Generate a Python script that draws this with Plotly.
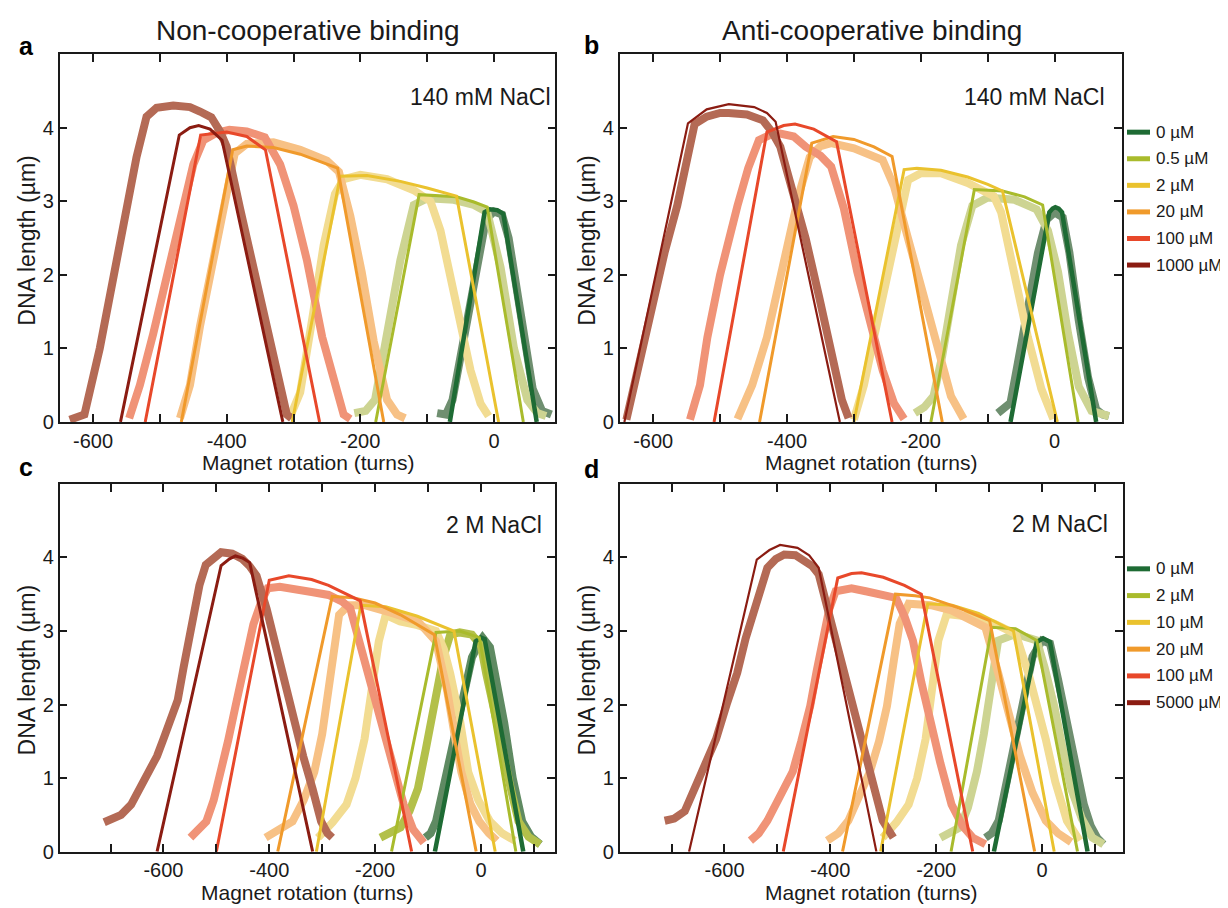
import plotly.graph_objects as go

# ---------------- data ----------------
labels_ab = ["0 µM", "0.5 µM", "2 µM", "20 µM", "100 µM", "1000 µM"]
labels_cd = ["0 µM", "2 µM", "10 µM", "20 µM", "100 µM", "5000 µM"]

fit_colors = ["#1e6b34", "#a9bb2c", "#eac22e", "#f09a2b", "#e8482a", "#8b1c12"]
data_colors = ["#6f8f70", "#cdd492", "#f2dc92", "#f7c185", "#f09377", "#b46a55"]
data_colors_c = ["#5f8a62", "#b3c04a", "#f2dc92", "#f7c185", "#f09377", "#b46a55"]

# Panel a: non-cooperative, 140 mM NaCl
a_fit_x = [
    [-66, -14, -6, 5, 14, 64],
    [-177, -112, -56, -30, -10, 44],
    [-302, -230, -190, -140, -100, -56, 7],
    [-468, -391, -370, -330, -290, -234, -165],
    [-522, -439, -400, -370, -342, -261],
    [-559, -471, -455, -442, -425, -407, -316],
]
a_fit_y = [
    [0, 2.85, 2.89, 2.88, 2.83, 0],
    [0, 3.09, 3.06, 2.99, 2.92, 0],
    [0, 3.34, 3.35, 3.27, 3.18, 3.07, 0],
    [0, 3.70, 3.75, 3.73, 3.64, 3.45, 0],
    [0, 3.90, 3.94, 3.88, 3.70, 0],
    [0, 3.90, 4.00, 4.03, 3.98, 3.83, 0],
]
a_data_x = [
    [-85, -72, -62, -45, -28, -12, 0, 12, 22, 40, 58, 72, 86],
    [-209, -192, -178, -160, -140, -120, -100, -60, -30, -10, 10, 30, 50, 65, 78],
    [-306, -290, -272, -255, -238, -225, -200, -160, -120, -95, -80, -65, -50, -35, -20, -8],
    [-470, -455, -440, -423, -405, -388, -370, -330, -290, -250, -232, -215, -198, -180, -160, -145, -133],
    [-546, -530, -510, -490, -470, -450, -435, -415, -396, -370, -343, -320, -300, -280, -257, -240, -225, -215],
    [-635, -613, -590, -568, -550, -535, -520, -505, -480, -455, -440, -423, -410, -400, -380, -353, -330, -310, -303],
]
a_data_y = [
    [0.12, 0.10, 0.30, 1.10, 2.00, 2.75, 2.86, 2.82, 2.50, 1.40, 0.45, 0.15, 0.10],
    [0.12, 0.15, 0.30, 1.15, 2.20, 2.95, 3.04, 3.02, 2.95, 2.85, 2.10, 1.00, 0.30, 0.12, 0.08],
    [0.05, 0.40, 1.40, 2.40, 3.10, 3.30, 3.36, 3.30, 3.15, 3.00, 2.60, 2.00, 1.30, 0.70, 0.25, 0.08],
    [0.05, 0.50, 1.30, 2.04, 2.90, 3.65, 3.78, 3.80, 3.70, 3.55, 3.40, 2.80, 2.04, 1.10, 0.30, 0.10, 0.05],
    [0.05, 0.50, 1.20, 2.00, 2.80, 3.50, 3.83, 3.93, 3.97, 3.95, 3.87, 3.50, 2.94, 2.20, 1.15, 0.55, 0.10, 0.04],
    [0.03, 0.10, 1.00, 2.04, 2.90, 3.60, 4.15, 4.27, 4.30, 4.28, 4.22, 4.14, 3.95, 3.74, 2.90, 1.82, 0.85, 0.10, 0.05],
]

# Panel b: anti-cooperative, 140 mM NaCl
b_fit_x = [
    [-66, -8, -3, 1, 6, 11, 62],
    [-185, -120, -78, -45, -18, 35],
    [-300, -225, -206, -170, -130, -100, -78, 4],
    [-441, -363, -331, -300, -270, -243, -168],
    [-509, -430, -405, -388, -360, -326, -243],
    [-643, -548, -520, -487, -449, -430, -417, -321],
]
b_fit_y = [
    [0, 2.85, 2.90, 2.92, 2.90, 2.85, 0],
    [0, 3.16, 3.14, 3.06, 2.95, 0],
    [0, 3.43, 3.45, 3.42, 3.33, 3.23, 3.14, 0],
    [0, 3.79, 3.88, 3.84, 3.74, 3.61, 0],
    [0, 3.94, 4.03, 4.05, 3.98, 3.81, 0],
    [0, 4.06, 4.25, 4.32, 4.28, 4.20, 4.08, 0],
]
b_data_x = [
    [-85, -66, -55, -40, -25, -12, 0, 12, 22, 36, 50, 62, 72, 81],
    [-209, -195, -181, -168, -155, -140, -123, -100, -60, -27, -10, 5, 20, 36, 55, 70, 81],
    [-300, -285, -270, -254, -238, -219, -200, -170, -130, -91, -80, -72, -56, -40, -20, -2],
    [-474, -452, -430, -414, -398, -382, -366, -350, -334, -300, -257, -240, -219, -196, -174, -155, -136],
    [-545, -530, -519, -500, -474, -458, -442, -426, -410, -390, -372, -350, -334, -315, -295, -276, -257, -240, -225],
    [-640, -621, -602, -583, -564, -550, -538, -520, -500, -487, -460, -436, -423, -410, -390, -372, -352, -334, -318, -308],
]
b_data_y = [
    [0.12, 0.26, 0.80, 1.60, 2.30, 2.75, 2.85, 2.78, 2.30, 1.38, 0.60, 0.17, 0.10, 0.08],
    [0.12, 0.20, 0.35, 0.90, 1.60, 2.40, 2.94, 3.05, 3.02, 2.89, 2.60, 2.04, 1.20, 0.48, 0.15, 0.10, 0.08],
    [0.03, 0.50, 1.15, 1.85, 2.49, 3.29, 3.38, 3.38, 3.25, 3.07, 2.85, 2.49, 1.85, 1.15, 0.45, 0.04],
    [0.04, 0.50, 1.15, 1.80, 2.49, 3.10, 3.60, 3.75, 3.79, 3.72, 3.56, 3.20, 2.49, 1.70, 0.93, 0.35, 0.04],
    [0.03, 0.50, 1.15, 2.00, 2.94, 3.45, 3.83, 3.90, 3.92, 3.88, 3.74, 3.62, 3.47, 2.90, 2.04, 1.35, 0.70, 0.25, 0.04],
    [0.03, 0.80, 1.60, 2.30, 2.94, 3.60, 4.05, 4.15, 4.20, 4.20, 4.18, 4.10, 3.95, 3.74, 3.10, 2.49, 1.70, 0.93, 0.30, 0.05],
]

# Panel c: non-cooperative, 2 M NaCl
c_fit_x = [
    [-87, -10, 0, 7, 80],
    [-169, -85, -40, -3, 66],
    [-311, -227, -180, -120, -51, 27],
    [-384, -281, -240, -200, -152, -88, -9],
    [-500, -400, -363, -320, -288, -228, -131],
    [-612, -491, -475, -464, -450, -437, -318],
]
c_fit_y = [
    [0, 2.86, 2.91, 2.89, 0],
    [0, 2.98, 3.00, 2.91, 0],
    [0, 3.35, 3.33, 3.20, 3.00, 0],
    [0, 3.47, 3.45, 3.38, 3.22, 2.95, 0],
    [0, 3.69, 3.75, 3.70, 3.62, 3.41, 0],
    [0, 3.89, 3.98, 4.02, 3.99, 3.93, 0],
]
c_data_x = [
    [-105, -95, -85, -68, -51, -34, -17, 0, 3, 17, 30, 44, 60, 78, 95, 112],
    [-190, -170, -152, -135, -119, -104, -88, -71, -58, -40, -17, 0, 10, 24, 37, 55, 71, 90, 112],
    [-308, -280, -254, -237, -220, -205, -193, -180, -153, -120, -85, -70, -58, -40, -24, -5, 17, 40, 64],
    [-407, -380, -356, -335, -315, -300, -288, -268, -250, -220, -170, -119, -85, -64, -50, -37, -20, -3, 15, 30],
    [-549, -535, -519, -505, -491, -478, -464, -447, -430, -415, -403, -380, -356, -320, -288, -262, -247, -235, -220, -200, -180, -163, -146, -128, -108],
    [-712, -695, -680, -661, -645, -627, -612, -600, -585, -573, -562, -552, -542, -532, -520, -505, -491, -470, -451, -437, -424, -405, -383, -360, -336, -318, -302, -290, -281],
]
c_data_y = [
    [0.19, 0.25, 0.41, 1.00, 1.53, 2.10, 2.64, 2.88, 2.91, 2.78, 2.30, 1.75, 1.00, 0.41, 0.20, 0.10],
    [0.19, 0.25, 0.33, 0.55, 0.86, 1.40, 1.97, 2.64, 2.95, 2.98, 2.95, 2.80, 2.42, 2.00, 1.53, 0.90, 0.41, 0.20, 0.10],
    [0.19, 0.40, 0.64, 1.00, 1.53, 2.20, 2.86, 3.22, 3.13, 3.08, 3.00, 2.75, 2.42, 1.80, 1.08, 0.70, 0.41, 0.25, 0.15],
    [0.19, 0.30, 0.41, 0.70, 1.08, 1.60, 2.20, 3.22, 3.35, 3.35, 3.25, 3.13, 2.86, 2.20, 1.60, 1.08, 0.65, 0.41, 0.25, 0.15],
    [0.19, 0.30, 0.41, 0.70, 1.08, 1.50, 1.97, 2.55, 3.09, 3.40, 3.58, 3.60, 3.58, 3.53, 3.49, 3.40, 3.31, 3.00, 2.64, 2.10, 1.53, 1.10, 0.64, 0.30, 0.12],
    [0.40, 0.45, 0.50, 0.64, 0.85, 1.08, 1.30, 1.53, 1.80, 2.06, 2.50, 2.86, 3.30, 3.62, 3.90, 4.00, 4.07, 4.05, 3.98, 3.88, 3.75, 3.30, 2.64, 2.00, 1.30, 0.85, 0.41, 0.25, 0.19],
]

# Panel d: anti-cooperative, 2 M NaCl
d_fit_x = [
    [-91, -10, 2, 15, 86],
    [-172, -95, -50, -10, 67],
    [-305, -216, -170, -120, -54, 23],
    [-377, -277, -240, -212, -160, -99, -14],
    [-489, -386, -360, -341, -300, -260, -228, -131],
    [-667, -539, -515, -495, -462, -440, -422, -313],
]
d_fit_y = [
    [0, 2.85, 2.90, 2.85, 0],
    [0, 3.05, 3.03, 2.87, 0],
    [0, 3.37, 3.35, 3.24, 3.00, 0],
    [0, 3.50, 3.48, 3.45, 3.32, 3.14, 0],
    [0, 3.72, 3.78, 3.79, 3.73, 3.62, 3.50, 0],
    [0, 3.97, 4.10, 4.17, 4.13, 4.03, 3.86, 0],
]
d_data_x = [
    [-107, -95, -82, -66, -50, -34, -18, 0, 15, 30, 47, 63, 79, 92, 104, 116],
    [-192, -172, -155, -140, -123, -110, -99, -83, -50, -10, 5, 23, 39, 55, 75, 95, 116],
    [-301, -275, -252, -236, -220, -207, -196, -180, -131, -90, -50, -26, -10, 7, 25, 47, 71],
    [-406, -385, -366, -345, -325, -308, -293, -280, -269, -252, -210, -171, -107, -83, -62, -42, -18, 7, 30, 55],
    [-551, -535, -519, -495, -471, -455, -438, -426, -414, -402, -390, -360, -333, -300, -276, -260, -244, -228, -212, -192, -171, -150, -131, -107],
    [-713, -695, -675, -657, -637, -616, -596, -576, -560, -543, -530, -519, -503, -487, -466, -446, -434, -422, -402, -382, -358, -333, -317, -301, -281],
]
d_data_y = [
    [0.19, 0.25, 0.42, 1.00, 1.53, 2.10, 2.65, 2.87, 2.83, 2.35, 1.76, 1.20, 0.64, 0.35, 0.19, 0.10],
    [0.19, 0.25, 0.33, 0.60, 1.09, 1.60, 2.20, 2.87, 2.96, 2.87, 2.50, 1.98, 1.40, 0.86, 0.45, 0.19, 0.10],
    [0.19, 0.40, 0.64, 1.00, 1.53, 2.20, 2.87, 3.23, 3.19, 3.10, 2.96, 2.43, 2.00, 1.53, 0.95, 0.42, 0.15],
    [0.15, 0.25, 0.42, 0.75, 1.09, 1.50, 1.98, 2.60, 3.10, 3.37, 3.35, 3.28, 3.05, 2.43, 1.85, 1.31, 0.80, 0.42, 0.25, 0.13],
    [0.15, 0.25, 0.42, 0.75, 1.09, 1.50, 1.98, 2.45, 2.87, 3.30, 3.54, 3.58, 3.54, 3.50, 3.45, 3.20, 2.87, 2.30, 1.76, 1.20, 0.64, 0.35, 0.19, 0.10],
    [0.42, 0.45, 0.55, 0.86, 1.20, 1.53, 2.00, 2.43, 2.90, 3.32, 3.62, 3.86, 3.98, 4.04, 4.03, 3.95, 3.88, 3.77, 3.20, 2.65, 1.95, 1.31, 0.85, 0.42, 0.19],
]

x_ranges = {"a": [-650, 92], "b": [-650, 100], "c": [-796, 139], "d": [-798, 152]}
tick_values = [-700, -600, -500, -400, -300, -200, -100, 0, 100]
tick_texts = ["", "-600", "", "-400", "", "-200", "", "0", ""]
y_tick_values = [0, 1, 2, 3, 4]
y_tick_texts = ["0", "1", "2", "3", "4"]

# ---------------- layout geometry (pixels) ----------------
W, H = 1228, 908
FONT = "Liberation Sans, Arial, Helvetica, sans-serif"
INK = "#1a1a1a"


def px_x(v):
    return v / W


def px_y(v):
    return 1 - v / H


panels = {
    "a": dict(x0=51.7, x1=547.4, y0=46.7, y1=419.0, ax="", data=(a_fit_x, a_fit_y, a_data_x, a_data_y)),
    "b": dict(x0=611.7, x1=1113.6, y0=46.7, y1=419.0, ax="2", data=(b_fit_x, b_fit_y, b_data_x, b_data_y)),
    "c": dict(x0=51.7, x1=546.5, y0=481.7, y1=854.0, ax="3", data=(c_fit_x, c_fit_y, c_data_x, c_data_y)),
    "d": dict(x0=611.7, x1=1114.5, y0=481.7, y1=854.0, ax="4", data=(d_fit_x, d_fit_y, d_data_x, d_data_y)),
}

fig = go.Figure()

for key, p in panels.items():
    fx, fy, dx, dy = p["data"]
    xa = "x" + p["ax"]
    ya = "y" + p["ax"]
    dcols = data_colors_c if key == "c" else data_colors
    labels = labels_ab if key in ("a", "b") else labels_cd
    # noisy measurement traces (drawn first)
    for i in range(6):
        fig.add_trace(go.Scatter(
            x=dx[i], y=dy[i], mode="lines", xaxis=xa, yaxis=ya, name=labels[i] + " data",
            line=dict(color=dcols[i], width=8), showlegend=False, hoverinfo="skip",
        ))
    # model fits
    for i in range(6):
        w = 4.5 if i == 0 else 3
        if key in ("b", "d") and i == 5:
            w = 2.2
        fig.add_trace(go.Scatter(
            x=fx[i], y=fy[i], mode="lines", xaxis=xa, yaxis=ya, name=labels[i],
            line=dict(color=fit_colors[i], width=w), showlegend=False,
        ))
    axis_common = dict(
        showline=True, linecolor=INK, linewidth=1.5, mirror="ticks",
        ticks="inside", ticklen=8, tickwidth=1.5, tickcolor=INK,
        showgrid=False, zeroline=False,
        tickfont=dict(family=FONT, size=20, color=INK),
    )
    fig.update_layout(**{
        ("xaxis" + p["ax"]): dict(
            domain=[px_x(p["x0"]), px_x(p["x1"])], range=x_ranges[key],
            anchor=ya, tickmode="array", tickvals=tick_values, ticktext=tick_texts,
            **axis_common),
        ("yaxis" + p["ax"]): dict(
            domain=[px_y(p["y1"]), px_y(p["y0"])], range=[0, 5],
            anchor=xa, tickmode="array", tickvals=y_tick_values, ticktext=y_tick_texts,
            **axis_common),
    })

annotations = []
shapes = []

# legends at the right of panels b and d (short thick line + label)
for labels, y_first, step in [(labels_ab, 125.7, 26.9), (labels_cd, 567.7, 27.1)]:
    for i, lab in enumerate(labels):
        yc = y_first + step * i
        shapes.append(dict(type="line", xref="paper", yref="paper",
                           x0=px_x(1119), x1=px_x(1142), y0=px_y(yc), y1=px_y(yc),
                           line=dict(color=fit_colors[i], width=5)))
        annotations.append(dict(text=lab, x=px_x(1146), y=px_y(yc), xref="paper", yref="paper",
                                showarrow=False, xanchor="left", yanchor="middle",
                                font=dict(family=FONT, size=17, color=INK)))

annotations.append(dict(text="Non-cooperative binding", x=px_x(300), y=px_y(23), xref="paper", yref="paper",
                        showarrow=False, xanchor="center", yanchor="middle",
                        font=dict(family=FONT, size=28, color=INK)))
annotations.append(dict(text="Anti-cooperative binding", x=px_x(864), y=px_y(23), xref="paper", yref="paper",
                        showarrow=False, xanchor="center", yanchor="middle",
                        font=dict(family=FONT, size=28, color=INK)))
for letter, (lx, ly) in {"a": (18.5, 38), "b": (583, 37), "c": (18, 465), "d": (583, 467)}.items():
    annotations.append(dict(text="<b>%s</b>" % letter, x=px_x(lx), y=px_y(ly), xref="paper", yref="paper",
                            showarrow=False, xanchor="center", yanchor="middle",
                            font=dict(family=FONT, size=25, color="#000")))
for txt, rx, cy in [("140 mM NaCl", 545, 90), ("140 mM NaCl", 1099, 90),
                    ("2 M NaCl", 536, 523), ("2 M NaCl", 1102, 522)]:
    annotations.append(dict(text=txt, x=px_x(rx), y=px_y(cy), xref="paper", yref="paper",
                            showarrow=False, xanchor="right", yanchor="middle",
                            font=dict(family=FONT, size=23, color=INK)))
for key, p in panels.items():
    cx = (p["x0"] + p["x1"]) / 2
    annotations.append(dict(text="Magnet rotation (turns)", x=px_x(cx), y=px_y(p["y1"] + 41),
                            xref="paper", yref="paper", showarrow=False,
                            xanchor="center", yanchor="middle",
                            font=dict(family=FONT, size=21, color=INK)))
    cy = (p["y0"] + p["y1"]) / 2 + 3
    annotations.append(dict(text="DNA length (µm)", x=px_x(p["x0"] - 33), y=px_y(cy),
                            xref="paper", yref="paper", showarrow=False, textangle=-90,
                            xanchor="center", yanchor="middle",
                            font=dict(family=FONT, size=23, color=INK)))

fig.update_layout(
    width=W, height=H, margin=dict(l=0, r=0, t=0, b=0),
    paper_bgcolor="white", plot_bgcolor="white",
    annotations=annotations, shapes=shapes, showlegend=False,
    font=dict(family=FONT, color=INK),
)

fig.write_html("out.html")
